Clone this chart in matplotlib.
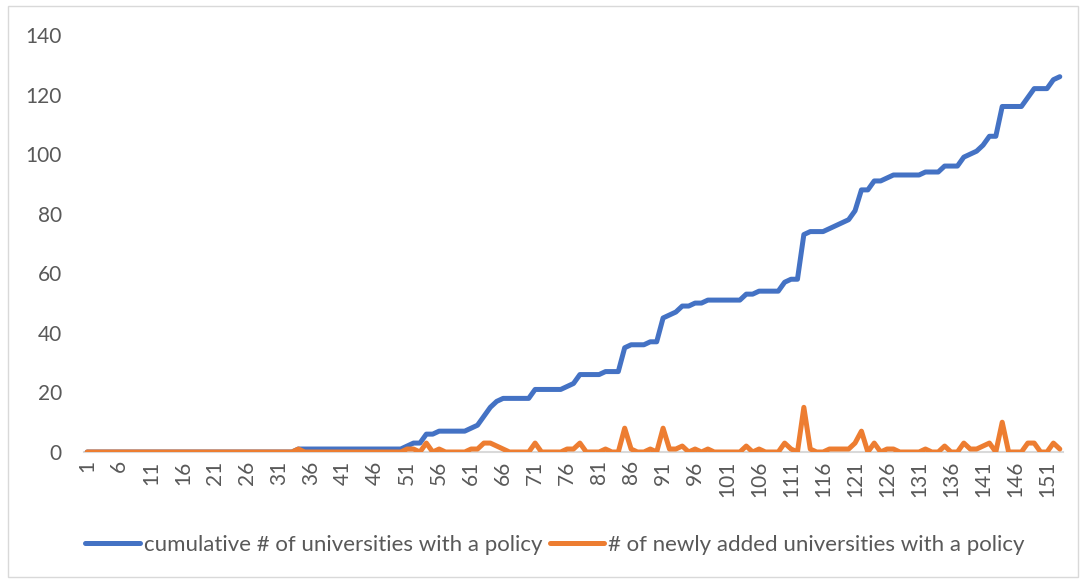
import matplotlib
matplotlib.use('Agg')
import matplotlib.pyplot as plt
from matplotlib.patches import Rectangle

plt.rcParams['font.family'] = ['Lato', 'DejaVu Sans']

# day index 1..153
days = list(range(1, 154))

# newly added universities per day
new_unis = [
    0, 0, 0, 0, 0, 0, 0, 0, 0, 0,
    0, 0, 0, 0, 0, 0, 0, 0, 0, 0,
    0, 0, 0, 0, 0, 0, 0, 0, 0, 0,
    0, 0, 0, 1, 0, 0, 0, 0, 0, 0,
    0, 0, 0, 0, 0, 0, 0, 0, 0, 0,
    1, 1, 0, 3, 0, 1, 0, 0, 0, 0,
    1, 1, 3, 3, 2, 1, 0, 0, 0, 0,
    3, 0, 0, 0, 0, 1, 1, 3, 0, 0,
    0, 1, 0, 0, 8, 1, 0, 0, 1, 0,
    8, 1, 1, 2, 0, 1, 0, 1, 0, 0,
    0, 0, 0, 2, 0, 1, 0, 0, 0, 3,
    1, 0, 15, 1, 0, 0, 1, 1, 1, 1,
    3, 7, 0, 3, 0, 1, 1, 0, 0, 0,
    0, 1, 0, 0, 2, 0, 0, 3, 1, 1,
    2, 3, 0, 10, 0, 0, 0, 3, 3, 0,
    0, 3, 1,
]

# cumulative universities with a policy (blue line)
cumulative = [
    0, 0, 0, 0, 0, 0, 0, 0, 0, 0,
    0, 0, 0, 0, 0, 0, 0, 0, 0, 0,
    0, 0, 0, 0, 0, 0, 0, 0, 0, 0,
    0, 0, 0, 1, 1, 1, 1, 1, 1, 1,
    1, 1, 1, 1, 1, 1, 1, 1, 1, 1,
    2, 3, 3, 6, 6, 7, 7, 7, 7, 7,
    8, 9, 12, 15, 17, 18, 18, 18, 18, 18,
    21, 21, 21, 21, 21, 22, 23, 26, 26, 26,
    26, 27, 27, 27, 35, 36, 36, 36, 37, 37,
    45, 46, 47, 49, 49, 50, 50, 51, 51, 51,
    51, 51, 51, 53, 53, 54, 54, 54, 54, 57,
    58, 58, 73, 74, 74, 74, 75, 76, 77, 78,
    81, 88, 88, 91, 91, 92, 93, 93, 93, 93,
    93, 94, 94, 94, 96, 96, 96, 99, 100, 101,
    103, 106, 106, 116, 116, 116, 116, 119, 122, 122,
    122, 125, 126,
]

yticks = [0, 20, 40, 60, 80, 100, 120, 140]
xtick_pos = list(range(1, 154, 5))

blue = '#4472C4'
orange = '#ED7D31'
grey = '#595959'

fig = plt.figure(figsize=(10.82, 5.8), dpi=100)
ax = fig.add_axes([84 / 1082, 1 - 452 / 580, (1063 - 84) / 1082, (452 - 35) / 580])

ax.plot(days, cumulative, color=blue, lw=3.6, solid_capstyle='round', solid_joinstyle='round',
        label='cumulative # of universities with a policy')
ax.plot(days, new_unis, color=orange, lw=3.6, solid_capstyle='round', solid_joinstyle='round',
        label='# of newly added universities with a policy')

ax.set_xlim(0.5, 153.5)
ax.set_ylim(0, 140)
ax.set_yticks(yticks)
ax.set_xticks(xtick_pos)
ax.set_xticklabels([str(x) for x in xtick_pos], rotation=90)

for s in ['top', 'right', 'left']:
    ax.spines[s].set_visible(False)
ax.spines['bottom'].set_color('#D9D9D9')
ax.spines['bottom'].set_linewidth(1.5)
ax.spines['bottom'].set_zorder(0)

ax.tick_params(axis='y', length=0, pad=16, labelsize=15, labelcolor=grey)
ax.tick_params(axis='x', length=0, pad=6, labelsize=15, labelcolor=grey)

fig.legend(loc='center', bbox_to_anchor=(555 / 1082, 1 - 545 / 580), ncol=2, frameon=False,
           fontsize=16, labelcolor=grey, handlelength=2.45, handletextpad=0.18, columnspacing=0.36)

# chart border
fig.patches.append(Rectangle((8 / 1082, 3 / 580), 1070 / 1082, 571 / 580, transform=fig.transFigure,
                             fill=False, edgecolor='#D9D9D9', lw=1))

fig.savefig('out.png', dpi=100)
